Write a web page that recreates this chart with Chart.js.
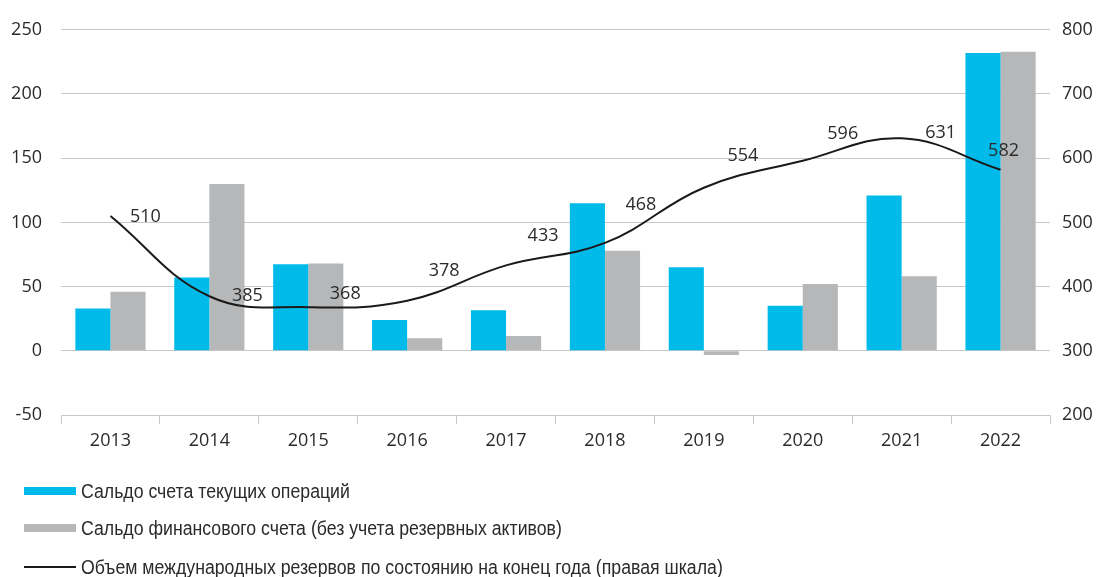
<!DOCTYPE html>
<html><head><meta charset="utf-8">
<script src="https://cdn.jsdelivr.net/npm/chart.js@4/dist/chart.umd.min.js"></script>
<style>html,body{margin:0;padding:0;background:#fff;overflow:hidden}</style>
</head><body>
<canvas id="c" width="1104" height="577" style="width:1104px;height:577px;display:block"></canvas>
<script>
const years = ['2013','2014','2015','2016','2017','2018','2019','2020','2021','2022'];
const currentAccount = [33, 57, 67.5, 24, 31.5, 115, 65, 35, 121, 232];
const financialAccount = [46, 130, 68, 9.7, 11.5, 78, -3.3, 52, 58, 233];
const reserves = [510, 385, 368, 378, 433, 468, 554, 596, 631, 582];
const leftTicks = [-50, 0, 50, 100, 150, 200, 250];
const rightTicks = [200, 300, 400, 500, 600, 700, 800];
const seriesNames = [
  'Сальдо счета текущих операций',
  'Сальдо финансового счета (без учета резервных активов)',
  'Объем международных резервов по состоянию на конец года (правая шкала)'
];
const labelOffsets = [[35,1],[38,0],[37,-13],[37,-30],[37,-30],[36,-38],[39,-32],[40,-27],[39,-5],[3,-19]];

const BLUE = '#00BBEA', GRAY = '#B6B7B9', TEXT = '#2b2b2b', GRID = '#C8C8C8';
const NUM_FONT = {family: "'Open Sans', sans-serif", size: 18};

const labelPlugin = {
  id: 'lineLabels',
  afterDatasetsDraw(chart) {
    const meta = chart.getDatasetMeta(0);
    const ctx = chart.ctx;
    ctx.save();
    ctx.font = "18px 'Open Sans', sans-serif";
    ctx.fillStyle = TEXT;
    ctx.textAlign = 'center';
    ctx.textBaseline = 'middle';
    meta.data.forEach((el, i) => {
      const o = labelOffsets[i];
      ctx.fillText(String(reserves[i]), el.x + o[0], el.y + o[1]);
    });
    ctx.restore();
  }
};

const legendPlugin = {
  id: 'customLegend',
  afterDraw(chart) {
    const ctx = chart.ctx;
    const ys = [491, 528, 567];
    const kinds = [['box', BLUE], ['box', GRAY], ['line', '#1a1a1a']];
    kinds.forEach((k, i) => {
      const y = ys[i];
      ctx.save();
      if (k[0] === 'box') { ctx.fillStyle = k[1]; ctx.fillRect(24, y - 4, 52, 8); }
      else { ctx.strokeStyle = k[1]; ctx.lineWidth = 2; ctx.beginPath(); ctx.moveTo(24, y); ctx.lineTo(76, y); ctx.stroke(); }
      ctx.translate(81, y + 1);
      ctx.scale(0.885, 1);
      ctx.font = "20px 'Liberation Sans', Arial, sans-serif";
      ctx.fillStyle = TEXT;
      ctx.textBaseline = 'middle';
      ctx.fillText(seriesNames[i], 0, 0);
      ctx.restore();
    });
  }
};

new Chart(document.getElementById('c'), {
  data: {
    labels: years,
    datasets: [
      {type: 'line', label: seriesNames[2], data: reserves, yAxisID: 'y1', borderColor: '#1a1a1a', borderWidth: 2, pointRadius: 0, tension: 0.4, fill: false, order: 0},
      {type: 'bar', label: seriesNames[0], data: currentAccount, yAxisID: 'y', backgroundColor: BLUE, borderWidth: 0, categoryPercentage: 0.71, barPercentage: 1.0, order: 1},
      {type: 'bar', label: seriesNames[1], data: financialAccount, yAxisID: 'y', backgroundColor: GRAY, borderWidth: 0, categoryPercentage: 0.71, barPercentage: 1.0, order: 2}
    ]
  },
  options: {
    responsive: false,
    animation: false,
    devicePixelRatio: 1,
    layout: {padding: {top: 26, bottom: 0, left: 0, right: 0}},
    plugins: {legend: {display: false}, tooltip: {enabled: false}},
    scales: {
      x: {
        offset: true,
        grid: {display: true, drawOnChartArea: false, drawTicks: true, tickLength: 9, color: GRID, offset: true},
        border: {display: true, color: GRID},
        ticks: {color: TEXT, font: NUM_FONT, padding: 6, maxRotation: 0},
        afterFit(s) { s.height = 162; }
      },
      y: {
        position: 'left', min: -50, max: 250,
        afterBuildTicks(s) { s.ticks = leftTicks.map(v => ({value: v})); },
        grid: {color: GRID, lineWidth: 1, drawTicks: false},
        border: {display: false},
        ticks: {color: TEXT, font: NUM_FONT, padding: 19},
        afterFit(s) { s.width = 61; }
      },
      y1: {
        position: 'right', min: 200, max: 800,
        afterBuildTicks(s) { s.ticks = rightTicks.map(v => ({value: v})); },
        grid: {drawOnChartArea: false, drawTicks: false},
        border: {display: false},
        ticks: {color: TEXT, font: NUM_FONT, padding: 12},
        afterFit(s) { s.width = 54; }
      }
    }
  },
  plugins: [labelPlugin, legendPlugin]
});
</script>
</body></html>
